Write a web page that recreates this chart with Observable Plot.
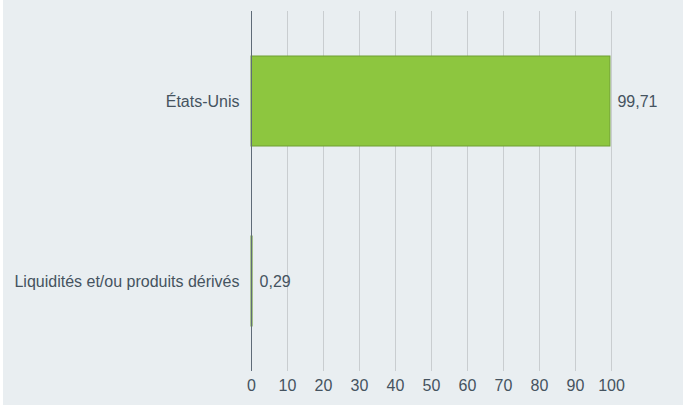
<!DOCTYPE html>
<html>
<head>
<meta charset="utf-8">
<script src="https://cdn.jsdelivr.net/npm/d3@7"></script>
<script src="https://cdn.jsdelivr.net/npm/@observablehq/plot@0.6"></script>
<style>
  html, body { margin: 0; padding: 0; background: #ffffff; }
  #chart { margin-left: 3px; width: 680px; height: 405px; background: #e9eef1; }
  #chart svg { display: block; }
</style>
</head>
<body>
<div id="chart"></div>
<script>
const categories = ["États-Unis", "Liquidités et/ou produits dérivés"];
const values = [99.71, 0.29];
const xTicks = [0, 10, 20, 30, 40, 50, 60, 70, 80, 90, 100];

const data = categories.map((c, i) => ({ category: c, value: values[i] }));
const fmt = v => v.toFixed(2).replace(".", ",");

const chart = Plot.plot({
  width: 680,
  height: 405,
  marginLeft: 248,
  marginRight: 72,
  marginTop: 11,
  marginBottom: 34,
  style: { background: "#e9eef1", fontFamily: "Liberation Sans, Arial, sans-serif", fontSize: "16px", color: "#45535f" },
  x: { domain: [0, 100], ticks: xTicks, label: null, grid: false },
  y: { domain: categories, paddingInner: 0.5, paddingOuter: 0.25, label: null },
  marks: [
    Plot.ruleX(xTicks.filter(t => t > 0), { stroke: "#c9cdd0", strokeWidth: 1, strokeOpacity: 1 }),
    Plot.barX(data, { x: "value", y: "category", fill: "#8dc63f", stroke: "#6e9e32", strokeWidth: 1 }),
    Plot.ruleX([0], { stroke: "#5f6b78", strokeWidth: 1 }),
    Plot.text(data, { x: "value", y: "category", text: d => fmt(d.value), textAnchor: "start", dx: 7, fill: "#45535f", fontSize: 16 }),
    Plot.axisX({ ticks: xTicks, tickSize: 0, tickPadding: 8, fontSize: 16, fill: "#45535f" }),
    Plot.axisY({ tickSize: 0, tickPadding: 12, fontSize: 16, fill: "#45535f" })
  ]
});
document.getElementById("chart").appendChild(chart);
</script>
</body>
</html>
